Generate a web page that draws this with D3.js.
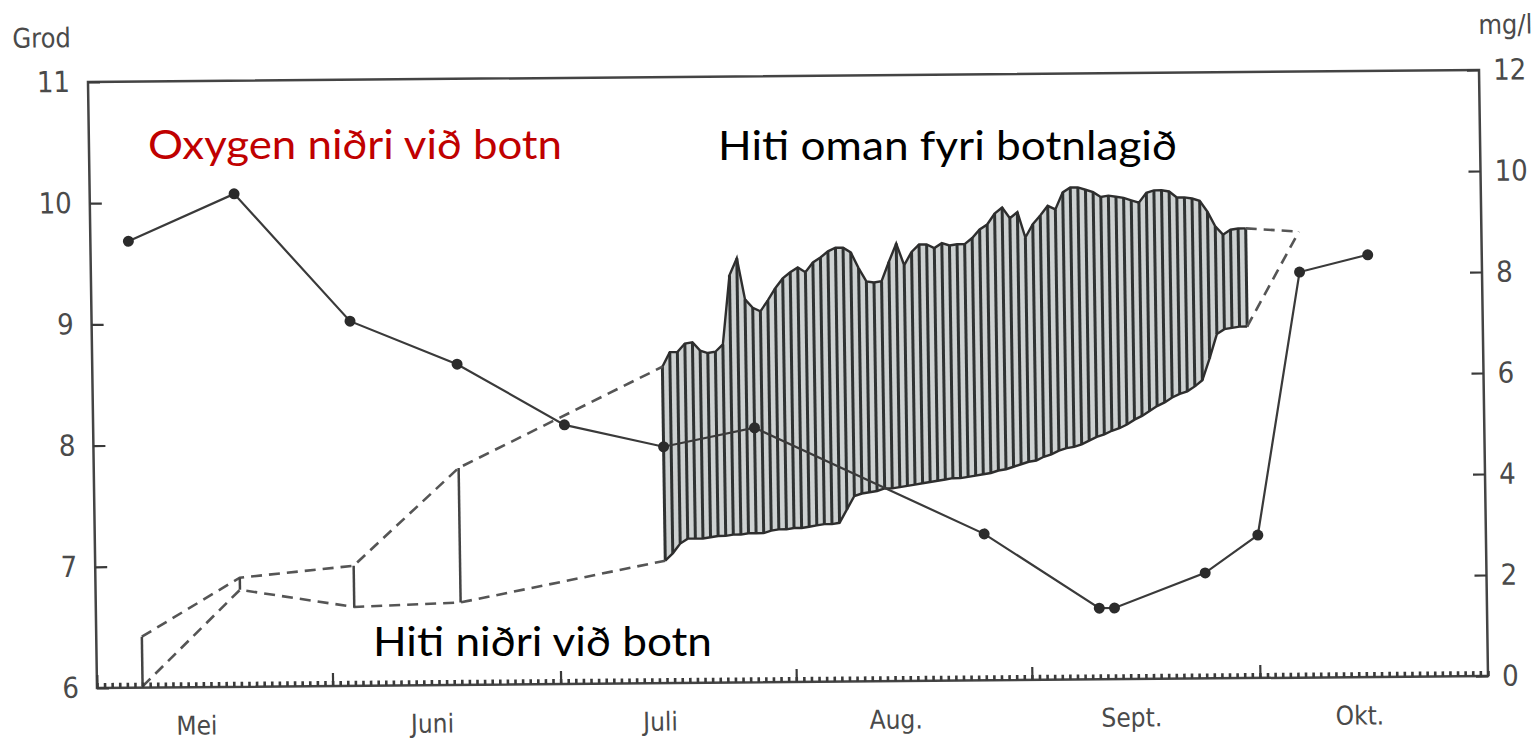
<!DOCTYPE html>
<html>
<head>
<meta charset="utf-8">
<script src="https://d3js.org/d3.v7.min.js"></script>
<style>
  body { margin: 0; background: #fff; }
  .axis text, .lbl { font-family: "DejaVu Sans", sans-serif; font-stretch: condensed; fill: #4a4a4a; }
  .note { font-family: Lato, "Open Sans", sans-serif; }
</style>
</head>
<body>
<div id="chart"></div>
<script>
// oxygen near the bottom, mg/l (right axis)
var oxyDates = ["1987-05-06","1987-05-20","1987-06-04","1987-06-18","1987-07-02","1987-07-15","1987-07-27",
                "1987-08-26","1987-09-10","1987-09-12","1987-09-24","1987-10-01","1987-10-07","1987-10-16"];
var oxygen = [8.84, 9.76, 7.22, 6.35, 5.13, 4.68, 5.04, 2.90, 1.41, 1.41, 2.09, 2.83, 8.03, 8.36];

// temperature (grod), spot measurements before the logger
var spotDates = ["1987-05-07","1987-05-20","1987-06-04","1987-06-18"];
var tempAboveSpot  = [6.42, 6.90, 6.99, 7.79];
var tempBottomSpot = [6.01, 6.80, 6.65, 6.68];

// daily logger values, first day 15 July
var dailyStart = "1987-07-15";
var tempAboveDaily = [8.61,8.73,8.73,8.80,8.81,8.74,8.72,8.73,8.79,9.36,9.50,9.16,9.09,9.06,9.15,9.25,9.33,9.38,9.42,9.38,
  9.46,9.50,9.55,9.58,9.58,9.54,9.41,9.30,9.29,9.30,9.46,9.61,9.43,9.54,9.60,9.60,9.57,9.61,9.59,9.60,
  9.60,9.65,9.72,9.76,9.85,9.90,9.81,9.86,9.65,9.76,9.83,9.91,9.88,10.02,10.06,10.06,10.04,10.02,9.98,9.99,
  9.98,9.97,9.95,9.93,10.01,10.03,10.03,10.02,9.97,9.97,9.96,9.94,9.85,9.73,9.66,9.70,9.71,9.71];
var tempBottomDaily = [7.01,7.07,7.15,7.19,7.19,7.19,7.20,7.21,7.21,7.22,7.22,7.23,7.23,7.23,7.25,7.26,7.26,7.27,7.27,7.28,
  7.29,7.30,7.30,7.31,7.42,7.53,7.55,7.56,7.57,7.59,7.59,7.60,7.61,7.62,7.63,7.64,7.65,7.66,7.67,7.67,
  7.68,7.69,7.70,7.71,7.73,7.74,7.76,7.78,7.80,7.81,7.84,7.86,7.89,7.91,7.92,7.94,7.97,8.00,8.02,8.05,
  8.07,8.10,8.14,8.17,8.21,8.25,8.28,8.32,8.35,8.37,8.41,8.46,8.64,8.84,8.88,8.89,8.90,8.90];

// last spot measurement
var endDate = "1987-10-07";
var tempAboveEnd = 9.68, tempBottomEnd = 9.68;

var monthNames = ["Mei", "Juni", "Juli", "Aug.", "Sept.", "Okt."];
var gradTicks = [6, 7, 8, 9, 10, 11];
var mgTicks = [0, 2, 4, 6, 8, 10, 12];

var W = 1391, H = 606;
var parse = d3.timeParse("%Y-%m-%d");

var svg = d3.select("#chart").append("svg")
  .attr("width", 1538).attr("height", 749);

// the scanned page is a bit skewed, so the plot group is too
var g = svg.append("g")
  .attr("transform", "matrix(1,-0.00863,0.01485,1,88,82)");

var x = d3.scaleTime().domain([new Date(1987, 4, 1), new Date(1987, 9, 31)]).range([0, W]);
var yT = d3.scaleLinear().domain([6, 11]).range([H, 0]);
var yO = d3.scaleLinear().domain([0, 12]).range([H, 0]);

var daily = tempAboveDaily.map(function(v, i) {
  return { date: d3.timeDay.offset(parse(dailyStart), i), hi: v, lo: tempBottomDaily[i] };
});
var spots = spotDates.map(function(d, i) {
  return { date: parse(d), hi: tempAboveSpot[i], lo: tempBottomSpot[i] };
});
var first = daily[0], last = daily[daily.length - 1];
var endPt = { date: parse(endDate), hi: tempAboveEnd, lo: tempBottomEnd };

// hatched band of daily values
g.append("path")
  .datum(daily)
  .attr("fill", "#cdd1d1")
  .attr("d", d3.area().x(function(d) { return x(d.date); })
    .y0(function(d) { return yT(d.lo); }).y1(function(d) { return yT(d.hi); }));

g.append("g").selectAll("line")
  .data(daily)
  .enter().append("line")
    .attr("x1", function(d) { return x(d.date); })
    .attr("x2", function(d) { return x(d.date); })
    .attr("y1", function(d) { return yT(d.lo); })
    .attr("y2", function(d) { return yT(d.hi); })
    .attr("stroke", "#2f3232")
    .attr("stroke-width", 3);

["hi", "lo"].forEach(function(k) {
  g.append("path")
    .datum(daily)
    .attr("fill", "none")
    .attr("stroke", "#2e2e2e")
    .attr("stroke-width", 2.4)
    .attr("d", d3.line().x(function(d) { return x(d.date); }).y(function(d) { return yT(d[k]); }));

  // dashed joins between spot measurements
  [spots.concat([first]), [last, endPt]].forEach(function(seg) {
    g.append("path")
      .datum(seg)
      .attr("fill", "none")
      .attr("stroke", "#555")
      .attr("stroke-width", 2.6)
      .attr("stroke-dasharray", "11,7")
      .attr("d", d3.line().x(function(d) { return x(d.date); }).y(function(d) { return yT(d[k]); }));
  });
});

// bars at the spot measurements
g.append("g").selectAll("line")
  .data(spots)
  .enter().append("line")
    .attr("x1", function(d) { return x(d.date); })
    .attr("x2", function(d) { return x(d.date); })
    .attr("y1", function(d) { return yT(d.lo); })
    .attr("y2", function(d) { return yT(d.hi); })
    .attr("stroke", "#444")
    .attr("stroke-width", 2.5);

// oxygen line
var oxy = oxyDates.map(function(d, i) { return { date: parse(d), v: oxygen[i] }; });
g.append("path")
  .datum(oxy)
  .attr("fill", "none")
  .attr("stroke", "#3a3a3a")
  .attr("stroke-width", 2.2)
  .attr("d", d3.line().x(function(d) { return x(d.date); }).y(function(d) { return yO(d.v); }));
g.append("g").selectAll("circle")
  .data(oxy)
  .enter().append("circle")
    .attr("cx", function(d) { return x(d.date); })
    .attr("cy", function(d) { return yO(d.v); })
    .attr("r", 5.5)
    .attr("fill", "#2b2b2b");

// frame
g.append("rect")
  .attr("width", W).attr("height", H)
  .attr("fill", "none").attr("stroke", "#444").attr("stroke-width", 2.5);

// axes
var left = g.append("g").attr("class", "axis")
  .call(d3.axisLeft(yT).tickValues(gradTicks).tickSize(-12).tickPadding(18).tickFormat(d3.format("d")));
var right = g.append("g").attr("class", "axis").attr("transform", "translate(" + W + ",0)")
  .call(d3.axisRight(yO).tickValues(mgTicks).tickSize(-12).tickPadding(14).tickFormat(d3.format("d")));
var days = g.append("g").attr("class", "axis").attr("transform", "translate(0," + H + ")")
  .call(d3.axisBottom(x).ticks(d3.timeDay.every(1)).tickSize(-5).tickFormat(""));
var mons = g.append("g").attr("class", "axis").attr("transform", "translate(0," + H + ")")
  .call(d3.axisBottom(x).ticks(d3.timeMonth.every(1)).tickSize(-13).tickFormat(""));
var labs = g.append("g").attr("class", "axis").attr("transform", "translate(0," + H + ")")
  .call(d3.axisBottom(x)
    .tickValues(monthNames.map(function(m, i) { return new Date(1987, 4 + i, 14); }))
    .tickSize(0).tickPadding(29)
    .tickFormat(function(d, i) { return monthNames[i]; }));

[left, right, days, mons, labs].forEach(function(a) {
  a.select(".domain").remove();
  a.selectAll("line").attr("stroke", "#3a3a3a").attr("stroke-width", 2.2);
  a.selectAll("text").style("font-size", "29px");
});
days.selectAll("line").attr("stroke-width", 2.6);
labs.selectAll("text").style("font-size", "26px");

g.append("text").attr("class", "lbl")
  .attr("x", -75).attr("y", -35)
  .style("font-size", "27px")
  .text("Grod");
g.append("text").attr("class", "lbl")
  .attr("x", 1391).attr("y", -36)
  .style("font-size", "27px")
  .text("mg/l");

// notes put on top of the scan
svg.append("text").attr("class", "note")
  .attr("x", 148).attr("y", 159)
  .attr("textLength", 414).attr("lengthAdjust", "spacingAndGlyphs")
  .style("font-size", "40px").style("fill", "#c00000")
  .text("Oxygen niðri við botn");
svg.append("text").attr("class", "note")
  .attr("x", 718).attr("y", 160)
  .attr("textLength", 459).attr("lengthAdjust", "spacingAndGlyphs")
  .style("font-size", "40px").style("fill", "#000")
  .text("Hiti oman fyri botnlagið");
svg.append("text").attr("class", "note")
  .attr("x", 373).attr("y", 656)
  .attr("textLength", 339).attr("lengthAdjust", "spacingAndGlyphs")
  .style("font-size", "40px").style("fill", "#000")
  .text("Hiti niðri við botn");
</script>
</body>
</html>
